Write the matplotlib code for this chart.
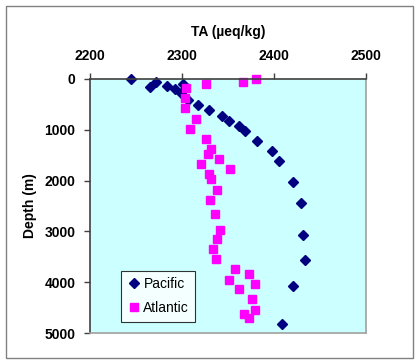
import numpy as np
import matplotlib.pyplot as plt
from matplotlib.patches import Rectangle

plt.rcParams['font.family'] = ['Liberation Sans', 'DejaVu Sans']

# Pacific profile
pac_ta = [2245, 2265, 2272, 2284, 2292, 2301, 2299, 2307, 2318, 2330, 2344, 2351,
          2362, 2369, 2382, 2398, 2406, 2421, 2430, 2432, 2434, 2421, 2409]
pac_depth = [0, 170, 72, 137, 209, 111, 288, 418, 517, 615, 726, 825,
             923, 1021, 1218, 1420, 1625, 2035, 2435, 3064, 3555, 4071, 4818]

# Atlantic profile
atl_ta = [2381, 2366, 2326, 2304, 2303, 2303, 2315, 2309, 2326, 2332, 2328, 2340,
          2321, 2352, 2329, 2332, 2338, 2331, 2336, 2341, 2338, 2334, 2337,
          2358, 2373, 2351, 2380, 2362, 2376, 2380, 2368, 2373]
atl_depth = [0, 59, 110, 189, 373, 582, 785, 988, 1190, 1387, 1479, 1577,
             1681, 1768, 1880, 1966, 2180, 2382, 2663, 2966, 3154, 3345, 3541,
             3744, 3842, 3948, 4038, 4130, 4333, 4543, 4621, 4694]

fig = plt.figure(figsize=(4.2, 3.64), dpi=100)
fig.patches.append(Rectangle((6 / 420, 1 - 358 / 364), 407 / 420, 352 / 364,
                             transform=fig.transFigure, fill=False,
                             edgecolor='#808080', linewidth=1))

ax = fig.add_axes([0.214, 0.0843, 0.657, 0.6995])
ax.set_facecolor('#ccffff')

ax.plot(pac_ta, pac_depth, 'D', color='#000080', ms=5.5, mec='#000080',
        label='Pacific', clip_on=False)
ax.plot(atl_ta, atl_depth, 's', color='#ff00ff', ms=6, mec='#ff00ff',
        label='Atlantic', clip_on=False)

ax.set_xlim(2200, 2500)
ax.set_ylim(5000, 0)
ax.set_xticks([2200, 2300, 2400, 2500])
ax.set_yticks([0, 1000, 2000, 3000, 4000, 5000])
ax.xaxis.tick_top()
ax.xaxis.set_label_position('top')
ax.tick_params(axis='both', direction='out', length=4, width=1, color='#404040',
               labelsize=10)
ax.tick_params(axis='x', pad=7)
ax.tick_params(axis='y', pad=6.5)
for lab in ax.get_xticklabels() + ax.get_yticklabels():
    lab.set_fontweight('bold')

for side in ['top', 'left']:
    ax.spines[side].set_color('#404040')
    ax.spines[side].set_linewidth(1.2)
for side in ['bottom', 'right']:
    ax.spines[side].set_color('#a0a0a0')
    ax.spines[side].set_linewidth(1.2)

ax.set_xlabel('TA (µeq/kg)', fontsize=10, fontweight='bold', labelpad=10)
ax.set_ylabel('Depth (m)', fontsize=10, fontweight='bold', labelpad=5)

leg = ax.legend(loc='lower left', bbox_to_anchor=(0.111, 0.046), fontsize=10,
                frameon=True, fancybox=False, edgecolor='#000000',
                borderaxespad=0, handletextpad=0.2, handlelength=1.0,
                borderpad=0.45, labelspacing=0.75)
leg.get_frame().set_facecolor('white')
leg.get_frame().set_linewidth(0.8)

fig.savefig('out.png', dpi=100)
